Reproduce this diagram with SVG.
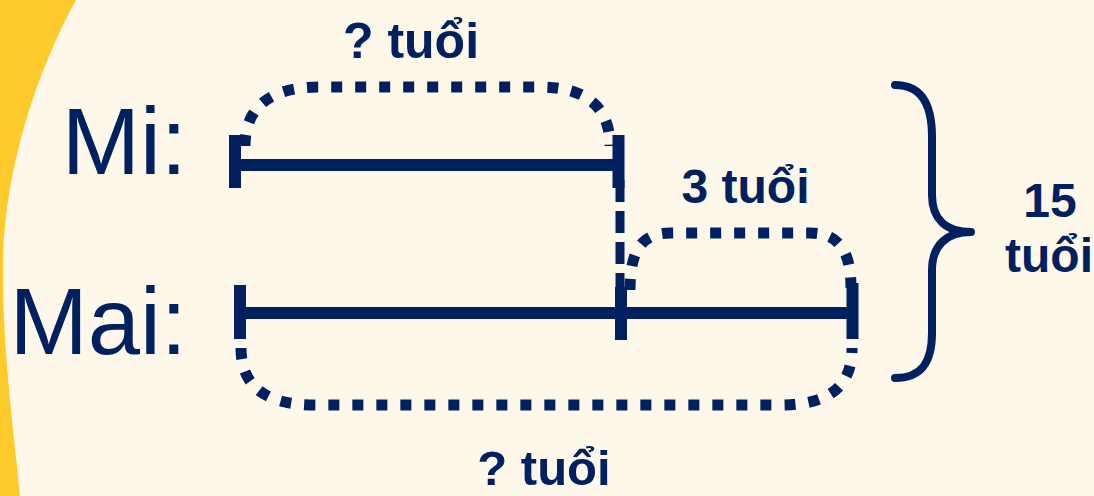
<svg xmlns="http://www.w3.org/2000/svg" width="1094" height="496" viewBox="0 0 1094 496">
<style>
.bg{fill:#FEF8EB}
.blob{fill:#FFCA2C}
.lbl{font-family:"Liberation Sans",Arial,sans-serif;fill:#002060;font-size:94px;text-anchor:end}
.ann{font-family:"Liberation Sans",Arial,sans-serif;fill:#002060;font-weight:bold;text-anchor:middle}
.bar{stroke:#002060;stroke-width:12;fill:none}
.dot{stroke:#002060;stroke-width:11;fill:none;stroke-dasharray:11 13}
.dash{stroke:#002060;stroke-width:9;fill:none;stroke-dasharray:22 9}
.brace{stroke:#002060;stroke-width:8;fill:none;stroke-linecap:round;stroke-linejoin:round}
</style>
<rect class="bg" x="0" y="0" width="1094" height="496"/>
<path class="blob" d="M0,0 L76,0 C35,75 5,170 3,260 C2,350 14,430 20,496 L0,496 Z"/>

<g id="node-mi">
  <text class="lbl" x="187" y="174">Mi:</text>
  <line class="bar" x1="229" y1="165" x2="624" y2="165"/>
  <line class="bar" x1="235" y1="135" x2="235" y2="188"/>
  <line class="bar" x1="618.5" y1="135" x2="618.5" y2="188"/>
</g>

<g id="node-mai">
  <text class="lbl" x="187" y="354">Mai:</text>
  <line class="bar" x1="234" y1="313" x2="858" y2="313"/>
  <line class="bar" x1="240" y1="285" x2="240" y2="339"/>
  <line class="bar" x1="621" y1="287" x2="621" y2="340"/>
  <line class="bar" x1="852.5" y1="283" x2="852.5" y2="339"/>
</g>

<g id="node-mi-age">
  <text class="ann" x="411" y="58" font-size="50">? tuổi</text>
</g>
<g id="node-diff">
  <text class="ann" x="745.5" y="203" font-size="48">3 tuổi</text>
</g>
<g id="node-mai-age">
  <text class="ann" x="544" y="485" font-size="49">? tuổi</text>
</g>
<g id="node-total">
  <text class="ann" x="1050" y="217" font-size="48">15</text>
  <text class="ann" x="1049" y="272" font-size="48">tuổi</text>
</g>

<g id="connectors">
  <path class="dot" d="M245,146 C245,106 272,87 318,87 L540,87 C585,87 610,106 610,146"/>
  <path class="dot" d="M630,290 C630,250 642,233 670,233 L810,233 C838,233 851,250 851,288"/>
  <path class="dot" d="M241,348 C241,386 265,405 315,405 L780,405 C830,405 852,386 852,348"/>
  <line class="dash" x1="620" y1="180" x2="620" y2="287"/>
  <path class="brace" d="M895,85 C922,85 932,105 932,137 L932,195 C932,218 945,232 971,232 C945,232 932,247 932,270 L932,333 C932,362 922,378 895,378"/>
</g>
</svg>
